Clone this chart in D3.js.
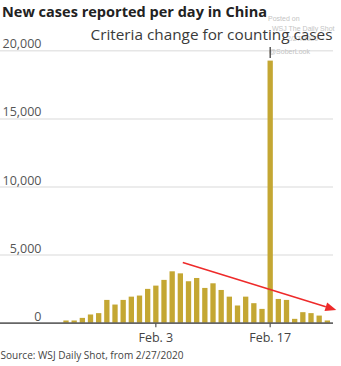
<!DOCTYPE html>
<html>
<head>
<meta charset="utf-8">
<script src="https://cdn.jsdelivr.net/npm/d3@7"></script>
<style>
  html, body { margin: 0; padding: 0; background: #fff; }
  svg { display: block; }
</style>
</head>
<body>
<svg id="chart" width="341" height="366"></svg>
<script>
const dates = ["Jan 23","Jan 24","Jan 25","Jan 26","Jan 27","Jan 28","Jan 29","Jan 30","Jan 31",
  "Feb 1","Feb 2","Feb 3","Feb 4","Feb 5","Feb 6","Feb 7","Feb 8","Feb 9","Feb 10","Feb 11",
  "Feb 12","Feb 13","Feb 14","Feb 15","Feb 16","Feb 17","Feb 18","Feb 19","Feb 20","Feb 21",
  "Feb 22","Feb 23","Feb 24"];
const newCases = [200, 200, 390, 640, 740, 1710, 1370, 1710, 1950, 2030, 2520, 2760, 3180, 3810,
  3660, 3080, 3320, 2590, 2930, 2440, 1950, 1300, 1950, 1470, 1050, 19280, 1780, 1710, 320,
  810, 740, 560, 200];
const yTicks = [0, 5000, 10000, 15000, 20000];
const xTickDates = ["Feb 3", "Feb 17"];
const xTickLabels = ["Feb. 3", "Feb. 17"];
// trend arrow endpoints: fractional day index (0 = Jan 23) and value
const arrowDay = [14.3, 33.1];
const arrowValue = [4450, 970];
const title = "New cases reported per day in China";
const annotation = "Criteria change for counting cases";
const source = "Source: WSJ Daily Shot, from 2/27/2020";
const watermark = ["Posted on", "WSJ The Daily Shot", "2/27/2020", "@SoberLook"];

const svg = d3.select("#chart");
const font = "'Open Sans', 'Noto Sans', sans-serif";

const x = d3.scaleBand().domain(dates).range([63.35, 330]).paddingInner(0.35).paddingOuter(0);
const y = d3.scaleLinear().domain([0, 20000]).range([323.2, 50.8]);
const step = x.step();
const xc = d => x(d) + x.bandwidth() / 2;
const xi = i => xc(dates[0]) + i * step;

// gridlines
svg.append("g").selectAll("line").data(yTicks.filter(d => d > 0)).join("line")
  .attr("x1", 0).attr("x2", 333)
  .attr("y1", d => y(d)).attr("y2", d => y(d))
  .attr("stroke", "#e6e6e6").attr("stroke-width", 1.5);

// y labels
svg.append("g").selectAll("text").data(yTicks).join("text")
  .attr("x", 41.5).attr("y", d => y(d) - 2.5)
  .attr("text-anchor", "end")
  .attr("font-family", font).attr("font-size", 12.5).attr("fill", "#555")
  .text(d => d3.format(",")(d));

// bars
svg.append("g").selectAll("rect").data(dates).join("rect")
  .attr("x", d => x(d)).attr("width", x.bandwidth())
  .attr("y", (d, i) => y(newCases[i]))
  .attr("height", (d, i) => y(0) - y(newCases[i]))
  .attr("fill", "#c4a733");

// baseline
svg.append("line").attr("x1", 0).attr("x2", 333)
  .attr("y1", y(0)).attr("y2", y(0))
  .attr("stroke", "#666").attr("stroke-width", 1.8);

// x ticks
const xt = svg.append("g").selectAll("g").data(xTickDates).join("g")
  .attr("transform", d => `translate(${xc(d)},0)`);
xt.append("line").attr("y1", y(0)).attr("y2", y(0) + 4).attr("stroke", "#555").attr("stroke-width", 1.2);
xt.append("text").attr("y", 342).attr("text-anchor", "middle")
  .attr("font-family", font).attr("font-size", 12.5).attr("fill", "#444")
  .text((d, i) => xTickLabels[i]);

// trend arrow
const ax0 = xi(arrowDay[0]), ay0 = y(arrowValue[0]);
const ax1 = xi(arrowDay[1]), ay1 = y(arrowValue[1]);
const ang = Math.atan2(ay1 - ay0, ax1 - ax0);
const headL = 11, headW = 4.5;
const bx = ax1 - headL * Math.cos(ang), by = ay1 - headL * Math.sin(ang);
svg.append("line").attr("x1", ax0).attr("y1", ay0).attr("x2", bx).attr("y2", by)
  .attr("stroke", "#ee2a2a").attr("stroke-width", 1.5);
svg.append("path")
  .attr("d", d3.line()([[ax1, ay1],
    [bx + headW * Math.sin(ang), by - headW * Math.cos(ang)],
    [bx - headW * Math.sin(ang), by + headW * Math.cos(ang)]]) + "Z")
  .attr("fill", "#ee2a2a");

// watermark
const wmX = [268, 272, 287, 269];
const wmY = [21, 31, 41, 54];
svg.append("g").selectAll("text").data(watermark).join("text")
  .attr("x", (d, i) => wmX[i]).attr("y", (d, i) => wmY[i])
  .attr("font-family", "'Liberation Sans', Arial, sans-serif").attr("font-size", 7)
  .attr("fill", "#c4c4c4")
  .text(d => d);

// annotation pointer
svg.append("line").attr("x1", xc("Feb 17")).attr("x2", xc("Feb 17"))
  .attr("y1", 47).attr("y2", 58).attr("stroke", "#333").attr("stroke-width", 1.2);

// title
svg.append("text").attr("x", 2).attr("y", 17)
  .attr("font-family", font).attr("font-weight", 700).attr("font-size", 14.5)
  .attr("fill", "#222")
  .attr("textLength", 265).attr("lengthAdjust", "spacingAndGlyphs")
  .text(title);

// annotation text
svg.append("text").attr("x", 90.5).attr("y", 39.5)
  .attr("font-family", font).attr("font-size", 15).attr("fill", "#3a3a3a")
  .attr("textLength", 242).attr("lengthAdjust", "spacingAndGlyphs")
  .text(annotation);

// source
svg.append("text").attr("x", 0.5).attr("y", 359)
  .attr("font-family", font).attr("font-size", 11.5).attr("fill", "#444")
  .attr("textLength", 183).attr("lengthAdjust", "spacingAndGlyphs")
  .text(source);
</script>
</body>
</html>
